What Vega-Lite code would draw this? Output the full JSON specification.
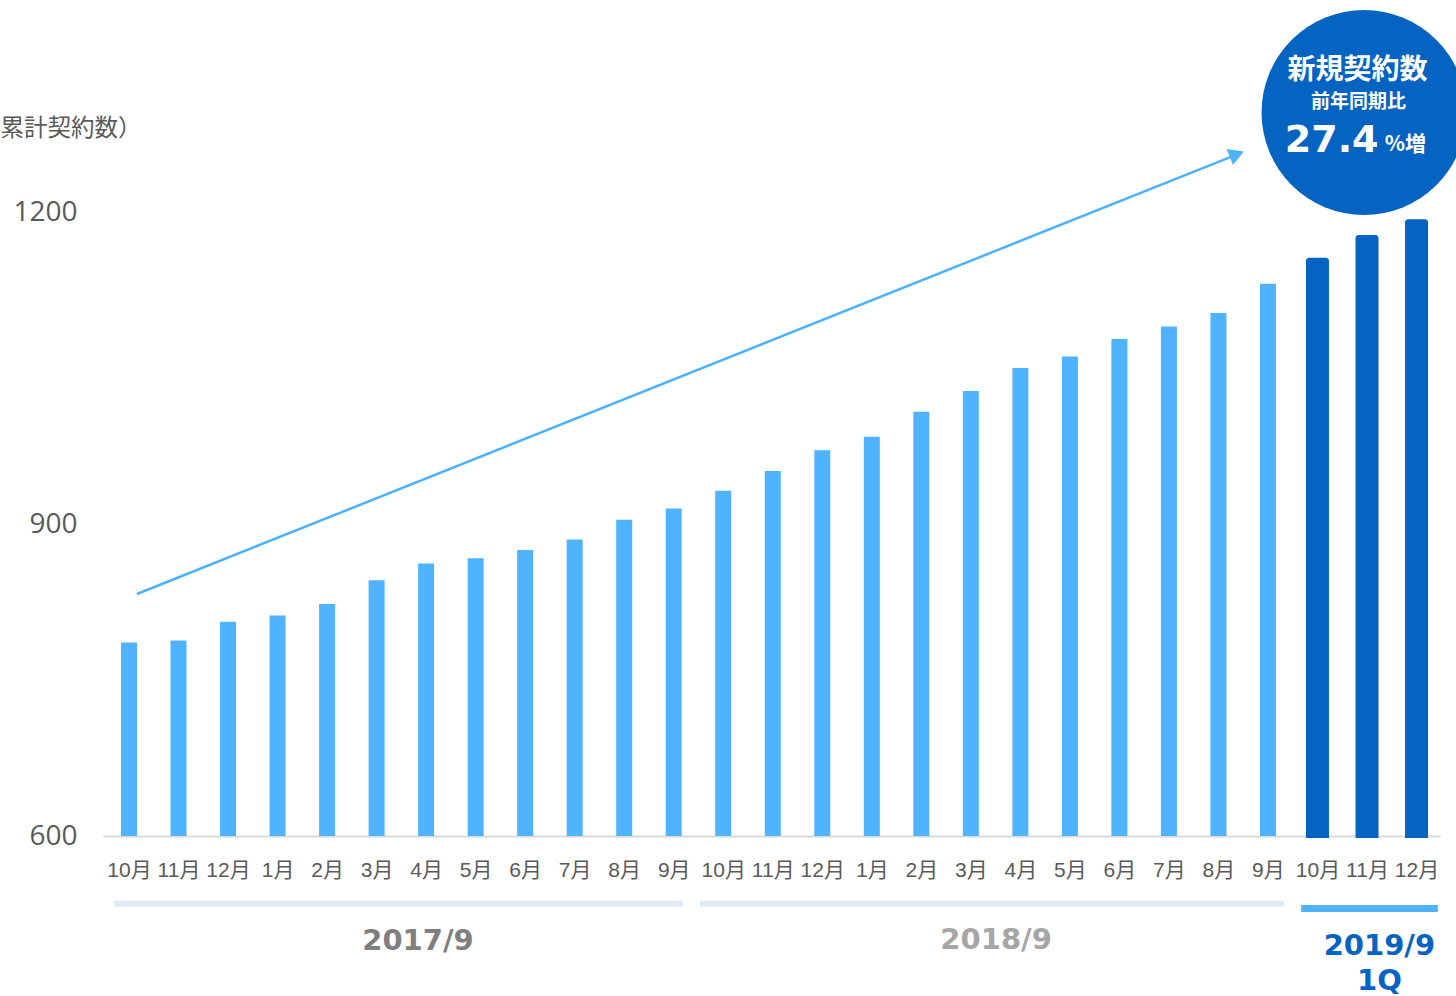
{
  "$schema": "https://vega.github.io/schema/vega-lite/v6.json",
  "width": 1337,
  "height": 836,
  "autosize": {"type": "none"},
  "padding": {"left": 103, "top": 0, "right": 16, "bottom": 160},
  "background": "#ffffff",
  "config": {"view": {"stroke": null}},
  "datasets": {
    "bars": [
      {"i": 1, "month": "10月", "v": 786, "period": "2017/9"},
      {"i": 2, "month": "11月", "v": 788, "period": "2017/9"},
      {"i": 3, "month": "12月", "v": 806, "period": "2017/9"},
      {"i": 4, "month": "1月", "v": 812, "period": "2017/9"},
      {"i": 5, "month": "2月", "v": 823, "period": "2017/9"},
      {"i": 6, "month": "3月", "v": 846, "period": "2017/9"},
      {"i": 7, "month": "4月", "v": 862, "period": "2017/9"},
      {"i": 8, "month": "5月", "v": 867, "period": "2017/9"},
      {"i": 9, "month": "6月", "v": 875, "period": "2017/9"},
      {"i": 10, "month": "7月", "v": 885, "period": "2017/9"},
      {"i": 11, "month": "8月", "v": 904, "period": "2017/9"},
      {"i": 12, "month": "9月", "v": 915, "period": "2017/9"},
      {"i": 13, "month": "10月", "v": 932, "period": "2018/9"},
      {"i": 14, "month": "11月", "v": 951, "period": "2018/9"},
      {"i": 15, "month": "12月", "v": 971, "period": "2018/9"},
      {"i": 16, "month": "1月", "v": 984, "period": "2018/9"},
      {"i": 17, "month": "2月", "v": 1008, "period": "2018/9"},
      {"i": 18, "month": "3月", "v": 1028, "period": "2018/9"},
      {"i": 19, "month": "4月", "v": 1050, "period": "2018/9"},
      {"i": 20, "month": "5月", "v": 1061, "period": "2018/9"},
      {"i": 21, "month": "6月", "v": 1078, "period": "2018/9"},
      {"i": 22, "month": "7月", "v": 1090, "period": "2018/9"},
      {"i": 23, "month": "8月", "v": 1103, "period": "2018/9"},
      {"i": 24, "month": "9月", "v": 1131, "period": "2018/9"},
      {"i": 25, "month": "10月", "v": 1156, "period": "2019/9 1Q"},
      {"i": 26, "month": "11月", "v": 1178, "period": "2019/9 1Q"},
      {"i": 27, "month": "12月", "v": 1193, "period": "2019/9 1Q"}
    ]
  },
  "encoding": {
    "x": {
      "field": "i", "type": "quantitative",
      "scale": {"domain": [0.475, 27.474], "nice": false, "zero": false, "padding": 0},
      "axis": {
        "values": [1,2,3,4,5,6,7,8,9,10,11,12,13,14,15,16,17,18,19,20,21,22,23,24,25,26,27],
        "labelExpr": "((datum.value + 8) % 12 + 1) + '月'",
        "title": null, "grid": false, "ticks": false, "tickSize": 0,
        "domainColor": "#d9d9d9", "domainWidth": 2,
        "labelFont": "Liberation Sans, Noto Sans CJK JP", "labelFontSize": 21,
        "labelColor": "#595959", "labelPadding": 23, "labelOverlap": false,
        "labelFlush": false
      }
    },
    "y": {
      "field": "v", "type": "quantitative",
      "scale": {"domain": [600, 1403.85], "nice": false, "zero": false},
      "axis": {
        "values": [600, 900, 1200], "format": "d",
        "title": "（累計契約数）", "titleAngle": 0, "titleAlign": "left",
        "titleBaseline": "middle", "titleX": -126.5, "titleY": 128,
        "titleFont": "Noto Sans CJK JP", "titleFontSize": 23.5, "titleFontWeight": "normal",
        "titleColor": "#595959",
        "grid": false, "ticks": false, "tickSize": 0, "domain": false,
        "labelFont": "Open Sans", "labelFontSize": 28, "labelColor": "#595959",
        "labelPadding": 26
      }
    }
  },
  "layer": [
    {
      "data": {"name": "bars"},
      "transform": [{"filter": "datum.period != '2019/9 1Q'"}],
      "mark": {"type": "bar", "color": "#4fb3ff", "size": 16},
      "encoding": {"y2": {"datum": 600}}
    },
    {
      "data": {"name": "bars"},
      "transform": [{"filter": "datum.period == '2019/9 1Q'"}],
      "mark": {"type": "bar", "color": "#0563c1", "size": 23, "cornerRadiusTopLeft": 3, "cornerRadiusTopRight": 3},
      "encoding": {"y2": {"datum": 598}}
    },
    {
      "data": {"values": [
        {"period": "2017/9", "i": 0.697, "i2": 12.19, "v": 534.9},
        {"period": "2018/9", "i": 12.53, "i2": 24.32, "v": 534.9}
      ]},
      "mark": {"type": "rule", "strokeWidth": 6, "color": "#deeaf6"},
      "encoding": {"x2": {"field": "i2"}}
    },
    {
      "data": {"values": [{"period": "2019/9 1Q", "i": 24.67, "i2": 27.43, "v": 530.3}]},
      "mark": {"type": "rule", "strokeWidth": 7, "color": "#4fb3ff"},
      "encoding": {"x2": {"field": "i2"}}
    },
    {
      "data": {"values": [
        {"label": "2017/9", "i": 6.836, "v": 499.0},
        {"label": "2018/9", "i": 18.51, "v": 500.0},
        {"label": "2019/9", "i": 26.25, "v": 493.75},
        {"label": "1Q", "i": 26.25, "v": 460.5}
      ]},
      "mark": {"type": "text", "font": "DejaVu Sans", "fontWeight": "bold", "fontSize": 29, "align": "center", "baseline": "middle"},
      "encoding": {
        "text": {"field": "label"},
        "color": {"field": "label", "type": "nominal", "scale": {"domain": ["2017/9", "2018/9", "2019/9", "1Q"], "range": ["#7f7f7f", "#a6a6a6", "#0563c1", "#0563c1"]}, "legend": null}
      }
    },
    {
      "data": {"values": [{"i": 1.16, "v": 832.7, "i2": 23.29, "v2": 1253.8}]},
      "mark": {"type": "rule", "strokeWidth": 2.5, "color": "#4eb1fb"},
      "encoding": {"x2": {"field": "i2"}, "y2": {"field": "v2"}}
    },
    {
      "data": {"values": [{"i": 23.37, "v": 1255.5}]},
      "mark": {"type": "point", "shape": "triangle-right", "filled": true, "size": 300, "angle": 338.2, "color": "#4eb1fb", "opacity": 1}
    },
    {
      "data": {"values": [{"i": 25.94, "v": 1295.7}]},
      "mark": {"type": "point", "shape": "circle", "filled": true, "size": 42025, "color": "#0563c1", "opacity": 1}
    },
    {
      "data": {"values": [
        {"t": "新規契約数", "i": 25.81, "v": 1335.6, "kind": "head"},
        {"t": "前年同期比", "i": 25.83, "v": 1305.8, "kind": "sub"}
      ]},
      "mark": {"type": "text", "font": "Noto Sans CJK JP", "fontWeight": "bold", "align": "center", "baseline": "middle", "color": "#ffffff"},
      "encoding": {
        "text": {"field": "t"},
        "size": {"field": "kind", "type": "nominal", "scale": {"domain": ["head", "sub"], "range": [28, 19]}, "legend": null}
      }
    },
    {
      "data": {"values": [{"t": "27.4", "i": 24.34, "v": 1257.7}]},
      "mark": {"type": "text", "font": "DejaVu Sans", "fontWeight": "bold", "fontSize": 38, "align": "left", "baseline": "alphabetic", "color": "#ffffff"},
      "encoding": {"text": {"field": "t"}}
    },
    {
      "data": {"values": [{"t": "%増", "i": 26.36, "v": 1258.5}]},
      "mark": {"type": "text", "font": "Noto Sans CJK JP", "fontWeight": "bold", "fontSize": 21, "align": "left", "baseline": "alphabetic", "color": "#ffffff"},
      "encoding": {"text": {"field": "t"}}
    }
  ]
}
